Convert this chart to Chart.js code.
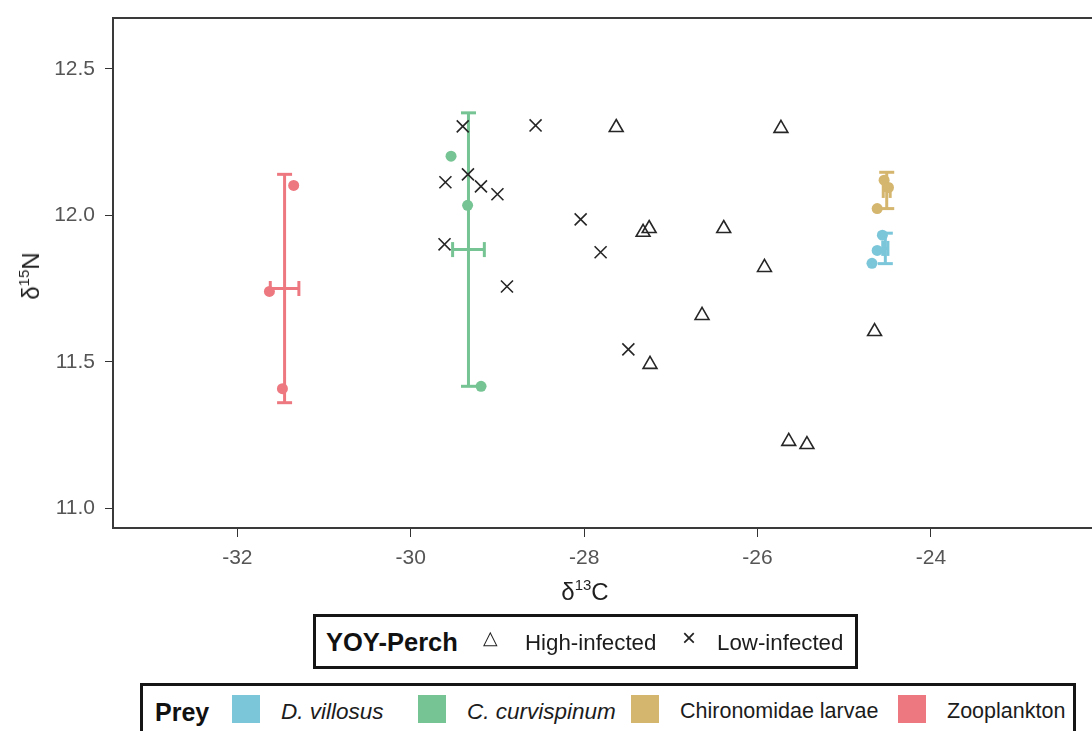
<!DOCTYPE html>
<html>
<head>
<meta charset="utf-8">
<script src="https://cdn.jsdelivr.net/npm/chart.js@4.4.0/dist/chart.umd.min.js"></script>
<style>
html,body{margin:0;padding:0;background:#fff;overflow:hidden;width:1092px;height:731px;}
#wrap{position:absolute;left:0;top:0;width:1100px;height:600px;}
#c{display:block;}
.t{position:absolute;font-family:"Liberation Sans",Arial,sans-serif;color:#1c1c1c;white-space:nowrap;line-height:1;transform:translateY(-50%);}
.box{position:absolute;border:3px solid #151515;box-sizing:border-box;background:#fff;}
.sq{position:absolute;width:28px;height:28px;}
.axt{position:absolute;font-family:"Liberation Sans",Arial,sans-serif;color:#1f1f1f;font-size:24px;white-space:nowrap;line-height:1;}
.axt sup{font-size:15px;position:relative;top:-3px;vertical-align:top;}
</style>
</head>
<body>
<div id="wrap"><canvas id="c" width="1100" height="600" style="width:1100px;height:600px"></canvas></div>

<div class="axt" id="ytitle" style="left:31px;top:276px;transform:translate(-50%,-50%) rotate(-90deg);">δ<sup>15</sup>N</div>
<div class="axt" id="xtitle" style="left:585px;top:592px;transform:translate(-50%,-50%);">δ<sup>13</sup>C</div>

<div class="box" style="left:313px;top:614px;width:545px;height:55px;"></div>
<div class="box" style="left:140px;top:683px;width:936px;height:58px;"></div>
<div id="legends"></div>

<script>
// ---- data ----
const xTicks = [-32, -30, -28, -26, -24];
const yTicks = [11.0, 11.5, 12.0, 12.5];
const xRange = [-33.434, -22.05];
const yRange = [10.932, 12.674];

// YOY-Perch individuals
const highC = [-27.63, -25.73, -27.25, -27.32, -26.39, -25.92, -26.64, -24.65, -27.24, -25.64, -25.43];
const highN = [12.300, 12.297, 11.955, 11.942, 11.955, 11.822, 11.658, 11.603, 11.491, 11.228, 11.217];
const lowC  = [-29.40, -28.56, -29.60, -29.34, -29.19, -29.00, -28.04, -29.61, -27.81, -28.89, -27.49];
const lowN  = [12.304, 12.307, 12.113, 12.140, 12.099, 12.072, 11.986, 11.901, 11.874, 11.757, 11.542];

// Prey
const preyNames  = ['D. villosus', 'C. curvispinum', 'Chironomidae larvae', 'Zooplankton'];
const preyColors = ['#7CC6DA', '#76C493', '#D5B66E', '#EE7880'];
const villosusC = [-24.68, -24.62, -24.56];
const villosusN = [11.836, 11.880, 11.932];
const curviC = [-29.535, -29.344, -29.189];
const curviN = [12.202, 12.034, 11.416];
const chiroC = [-24.62, -24.54, -24.49];
const chiroN = [12.023, 12.120, 12.095];
const zooC = [-31.63, -31.48, -31.35];
const zooN = [11.740, 11.408, 12.102];

const preyMeanC = [-24.526, -29.334, -24.51, -31.455];
const preyMeanN = [11.887, 11.883, 12.085, 11.750];
const preySdC   = [0.03, 0.183, 0.04, 0.165];
const preySdN   = [0.052, 0.467, 0.062, 0.390];

const legendPerchTitle = 'YOY-Perch';
const legendPerchLabels = ['High-infected', 'Low-infected'];
const legendPreyTitle = 'Prey';

// ---- build datasets ----
const pts = (xs, ys) => xs.map((x, i) => ({x, y: ys[i]}));
const preyPts = [pts(villosusC, villosusN), pts(curviC, curviN), pts(chiroC, chiroN), pts(zooC, zooN)];

const datasets = [];
preyPts.forEach((d, i) => {
  datasets.push({
    label: preyNames[i], data: d, order: 0,
    pointStyle: 'circle', pointRadius: 5.5, pointBackgroundColor: preyColors[i],
    pointBorderWidth: 0, showLine: false
  });
});
datasets.push({
  label: legendPerchLabels[0], data: pts(highC, highN), order: 0,
  pointStyle: 'triangle', pointRadius: 8, pointBorderColor: '#262626',
  pointBackgroundColor: 'rgba(0,0,0,0)', pointBorderWidth: 1.6, showLine: false
});
datasets.push({
  label: legendPerchLabels[1], data: pts(lowC, lowN), order: 0,
  pointStyle: 'crossRot', pointRadius: 8.5, pointBorderColor: '#262626',
  pointBorderWidth: 1.6, showLine: false
});
preyMeanC.forEach((mc, i) => {
  const mn = preyMeanN[i];
  datasets.push({
    label: preyNames[i] + ' sdN', order: 1, showLine: true,
    data: [{x: mc, y: mn - preySdN[i]}, {x: mc, y: mn + preySdN[i]}],
    borderColor: preyColors[i], borderWidth: 3, borderCapStyle: 'butt',
    pointStyle: 'line', pointRadius: 7.5, pointRotation: 0,
    pointBorderColor: preyColors[i], pointBorderWidth: 3
  });
  datasets.push({
    label: preyNames[i] + ' sdC', order: 1, showLine: true,
    data: [{x: mc - preySdC[i], y: mn}, {x: mc + preySdC[i], y: mn}],
    borderColor: preyColors[i], borderWidth: 3, borderCapStyle: 'butt',
    pointStyle: 'line', pointRadius: 7.5, pointRotation: 90,
    pointBorderColor: preyColors[i], pointBorderWidth: 3
  });
});

const frame = {
  id: 'frame',
  afterDatasetsDraw(chart) {
    const {ctx, chartArea: a} = chart;
    ctx.save();
    ctx.strokeStyle = '#3a3a3a';
    ctx.lineWidth = 2;
    ctx.strokeRect(a.left, a.top, a.right - a.left, a.bottom - a.top);
    ctx.restore();
  }
};

new Chart(document.getElementById('c'), {
  type: 'scatter',
  data: {datasets},
  plugins: [frame],
  options: {
    responsive: false, animation: false, events: [],
    devicePixelRatio: 1,
    layout: {autoPadding: false, padding: {top: 18, right: 0, bottom: 0, left: 0}},
    plugins: {legend: {display: false}, tooltip: {enabled: false}},
    scales: {
      x: {
        type: 'linear', min: xRange[0], max: xRange[1],
        afterBuildTicks: s => { s.ticks = xTicks.map(v => ({value: v})); },
        afterFit: s => { s.height = 72; s.paddingLeft = 0; s.paddingRight = 0; },
        ticks: {color: '#555', font: {family: "'Liberation Sans Narrow', 'Liberation Sans', Arial, sans-serif", size: 21}, padding: 9, callback: v => String(v)},
        grid: {display: true, drawOnChartArea: false, drawTicks: true, tickLength: 9, tickColor: '#333', tickWidth: 1},
        border: {display: false}
      },
      y: {
        type: 'linear', min: yRange[0], max: yRange[1],
        afterBuildTicks: s => { s.ticks = yTicks.map(v => ({value: v})); },
        afterFit: s => { s.width = 113; s.paddingTop = 0; s.paddingBottom = 0; },
        ticks: {color: '#555', font: {family: "'Liberation Sans', Arial, sans-serif", size: 21}, padding: 10, callback: v => Number(v).toFixed(1)},
        grid: {display: true, drawOnChartArea: false, drawTicks: true, tickLength: 8, tickColor: '#333', tickWidth: 1},
        border: {display: false}
      }
    }
  }
});

// ---- legends (HTML text) ----
const L = document.getElementById('legends');
function txt(s, left, top, css) {
  const e = document.createElement('div');
  e.className = 't';
  e.textContent = s;
  e.style.left = left + 'px';
  e.style.top = top + 'px';
  Object.assign(e.style, css || {});
  L.appendChild(e);
  return e;
}
txt(legendPerchTitle, 326, 643, {fontWeight: 'bold', fontSize: '25.5px', color: '#111'});
txt('△', 483, 637, {fontSize: '19px', color: '#222'});
txt(legendPerchLabels[0], 525, 643, {fontSize: '22.3px'});
txt('×', 682, 638, {fontSize: '24px', color: '#222'});
txt(legendPerchLabels[1], 717, 643, {fontSize: '22.3px'});

txt(legendPreyTitle, 155, 712, {fontWeight: 'bold', fontSize: '25px', color: '#111'});
const sqLeft = [232, 418, 631, 898];
const labLeft = [281, 467, 680, 947];
const italic = [true, true, false, false];
const labSize = ['22.5px', '22.5px', '21.5px', '21.5px'];
preyNames.forEach((n, i) => {
  const s = document.createElement('div');
  s.className = 'sq';
  s.style.left = sqLeft[i] + 'px';
  s.style.top = '695px';
  s.style.background = preyColors[i];
  L.appendChild(s);
  txt(n, labLeft[i], 712, {fontSize: labSize[i], fontStyle: italic[i] ? 'italic' : 'normal'});
});
</script>
</body>
</html>
